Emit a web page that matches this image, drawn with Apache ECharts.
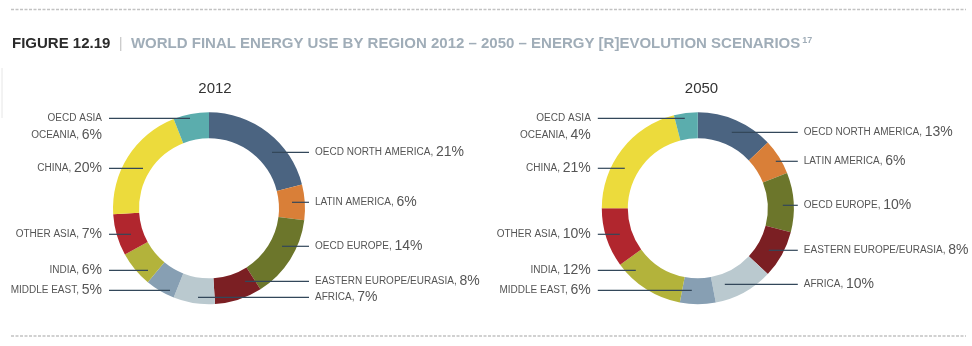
<!DOCTYPE html>
<html><head><meta charset="utf-8">
<script src="https://cdn.jsdelivr.net/npm/echarts@6/dist/echarts.min.js"></script>
<style>html,body{margin:0;padding:0;background:#fff}#c{width:972px;height:346px}</style>
</head><body><div id="c"></div>
<script>
var categories = ['OECD NORTH AMERICA','LATIN AMERICA','OECD EUROPE','EASTERN EUROPE/EURASIA','AFRICA','MIDDLE EAST','INDIA','OTHER ASIA','CHINA','OECD ASIA\nOCEANIA'];
var values2012 = [21, 6, 14, 8, 7, 5, 6, 7, 20, 6];
var values2050 = [13, 6, 10, 8, 10, 6, 12, 10, 21, 4];
var years = ['2012', '2050'];
var titleMain = 'FIGURE 12.19';
var titleSub = 'WORLD FINAL ENERGY USE BY REGION 2012 \u2013 2050 \u2013 ENERGY [R]EVOLUTION SCENARIOS';
var titleNote = '17';

var colors = ['#4b6481','#d97f38','#6c762b','#7b1f23','#bac9cf','#879fb3','#b3b33b','#b1262e','#ecdb3c','#5badad'];
var centers = [[209, 208.3], [697.8, 208.3]];
// leader-line layout per label: [vertical offset from centre, horizontal offset of line start]
var layout2012 = [[-56,63],[-6,83],[38,73],[73,36],[89,-11],[82,-39],[62,-61],[26,-78],[-40,-66],[-90,-19]];
var layout2050 = [[-76,34],[-47,78],[-3,85],[42,71],[76,27],[82,-6],[62,-62],[26,-78],[-40,-73],[-90,-13]];
var layouts = [layout2012, layout2050];

var FONT = 'Liberation Sans';
var rich = {
  n: {fontSize: 10, color: '#555', fontFamily: FONT, lineHeight: 17},
  p: {fontSize: 14, color: '#555', fontFamily: FONT, lineHeight: 17}
};
function fmt(p) {
  var parts = p.name.split('\n');
  return parts.map(function (s, j) {
    return j < parts.length - 1 ? '{n|' + s + '}' : '{n|' + s + ', }{p|' + p.value + '%}';
  }).join('\n');
}
function ring(i, vals) {
  return {
    type: 'pie', center: centers[i], radius: [70, 96], startAngle: 90, clockwise: true,
    silent: true, animation: false, z: 2,
    data: categories.map(function (n, k) { return {name: n, value: vals[k], itemStyle: {color: colors[k]}}; }),
    label: {show: false}, labelLine: {show: false},
    emphasis: {disabled: true}
  };
}
function labels(i, vals) {
  return {
    type: 'pie', center: centers[i], radius: [70, 96], startAngle: 90, clockwise: true,
    silent: true, avoidLabelOverlap: false, animation: false, z: 4,
    data: categories.map(function (n, k) { return {name: n, value: vals[k]}; }),
    itemStyle: {color: 'rgba(0,0,0,0)'},
    label: {show: true, position: 'outside', formatter: fmt, rich: rich},
    labelLine: {show: true, showAbove: true, length: 5, length2: 5, lineStyle: {color: '#33475a', width: 1.2}},
    emphasis: {disabled: true},
    labelLayout: function (p) {
      var L = layouts[i][p.dataIndex], c = centers[i];
      var y = c[1] + L[0];
      var right = p.dataIndex < 5;
      var lines = categories[p.dataIndex].split('\n').length;
      var sx = c[0] + L[1], ex = c[0] + (right ? 100 : -100);
      return {
        x: c[0] + (right ? 106 : -107), y: y + (lines - 1) * 8.5,
        align: right ? 'left' : 'right', verticalAlign: 'middle',
        labelLinePoints: [[sx, y], [ex, y], [ex, y]]
      };
    }
  };
}
var chart = echarts.init(document.getElementById('c'), null, {renderer: 'canvas'});
chart.setOption({
  backgroundColor: '#fff',
  animation: false,
  graphic: [
    {type: 'line', shape: {x1: 11, y1: 9.5, x2: 966, y2: 9.5}, style: {stroke: '#c2c2c2', lineWidth: 1.5, lineDash: [3, 1.5]}},
    {type: 'line', shape: {x1: 11, y1: 336, x2: 966, y2: 336}, style: {stroke: '#c2c2c2', lineWidth: 1.5, lineDash: [3, 1.5]}},
    {type: 'line', shape: {x1: 2, y1: 68, x2: 2, y2: 118}, style: {stroke: '#e6e6e6', lineWidth: 1}},
    {type: 'text', x: 12, y: 44, style: {
      text: '{a|' + titleMain + '}{b|  |  }{c|' + titleSub + '}{d|' + titleNote + '}',
      textVerticalAlign: 'middle',
      rich: {
        a: {fontSize: 15, fontWeight: 'bold', fill: '#2b2b2b', fontFamily: FONT},
        b: {fontSize: 15, fill: '#c8c8c8', fontFamily: FONT},
        c: {fontSize: 15, fontWeight: 'bold', fill: '#a0adb8', fontFamily: FONT},
        d: {fontSize: 9, fontWeight: 'bold', fill: '#a0adb8', fontFamily: FONT, verticalAlign: 'top', padding: [0, 0, 7, 2]}
      }
    }},
    {type: 'text', x: 215, y: 89, style: {text: years[0], fontSize: 15, fill: '#333', fontFamily: FONT, textAlign: 'center', textVerticalAlign: 'middle'}},
    {type: 'text', x: 701.5, y: 89, style: {text: years[1], fontSize: 15, fill: '#333', fontFamily: FONT, textAlign: 'center', textVerticalAlign: 'middle'}}
  ],
  series: [ring(0, values2012), ring(1, values2050), labels(0, values2012), labels(1, values2050)]
});
</script></body></html>
